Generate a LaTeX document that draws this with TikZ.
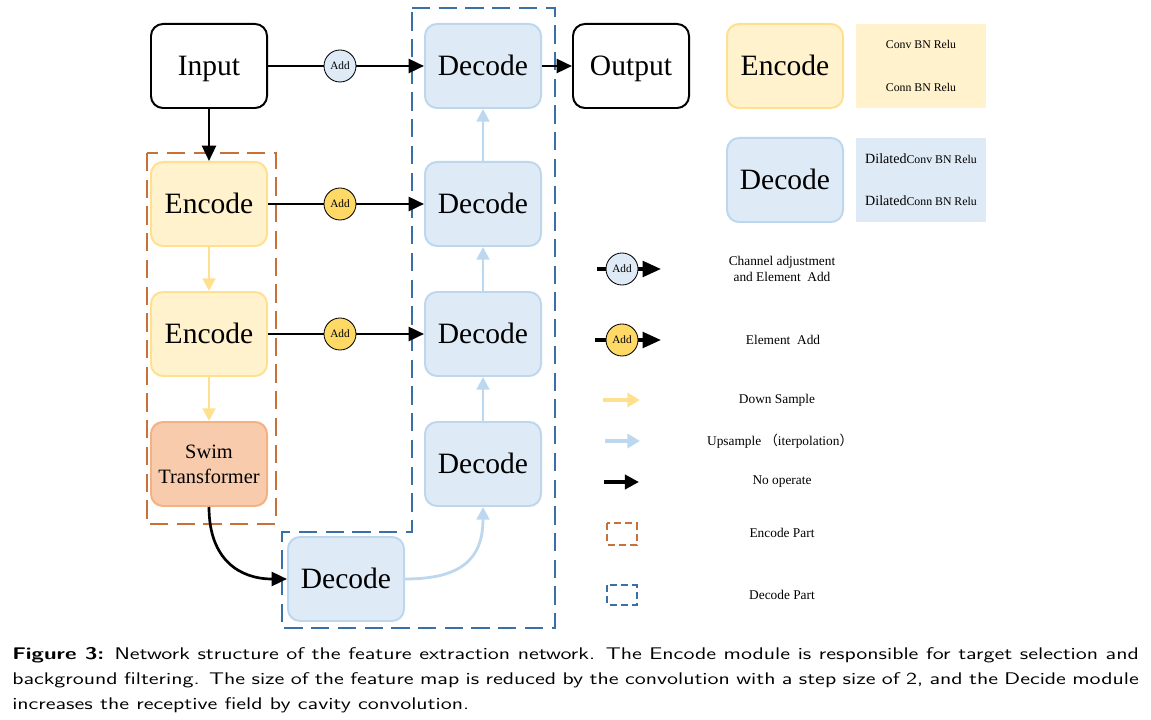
\documentclass[tikz,border=0pt]{standalone}
\usepackage{fontspec}
\setmainfont{Liberation Serif}
\newfontfamily\cjkfont{Noto Sans CJK SC}
\usepackage{graphicx}
\usepackage{tikz}
\usetikzlibrary{arrows.meta}
\usetikzlibrary{positioning}

\definecolor{encfill}{HTML}{FFF2CC}
\definecolor{encline}{HTML}{FFE08F}
\definecolor{decfill}{HTML}{DEEAF6}
\definecolor{decline}{HTML}{BDD7EE}
\definecolor{swimfill}{HTML}{F8CBAD}
\definecolor{swimline}{HTML}{F4B183}
\definecolor{addyellow}{HTML}{FFD966}
\definecolor{encpart}{HTML}{C8703A}
\definecolor{decpart}{HTML}{3A70A8}

\begin{document}
\begin{tikzpicture}[x=0.025cm,y=-0.025cm,
	box/.style={rounded corners=0.3cm,minimum width=2.9cm,minimum height=2.1cm,line width=1.4pt,align=center},
	word/.style={box,font=\fontsize{21}{25}\selectfont,text height=13.5pt,text depth=0pt},
	io node/.style={word,draw=black},
	enc node/.style={word,draw=encline,fill=encfill},
	dec node/.style={word,draw=decline,fill=decfill},
	swim node/.style={box,draw=swimline,fill=swimfill,font=\fontsize{14.5}{17.8}\selectfont},
	add node/.style={circle,draw=black,line width=0.6pt,minimum size=0.8cm,inner sep=0pt,font=\fontsize{8}{9}\selectfont},
	panel/.style={minimum width=3.25cm,minimum height=2.1cm,align=center,font=\fontsize{8.4}{10}\selectfont},
	legend text/.style={align=center,font=\fontsize{9.5}{11.4}\selectfont},
	plain/.style={line width=1.9pt,-{Triangle[length=11pt,width=10pt]}},
	down/.style={draw=encline,line width=2pt,-{Triangle[length=9pt,width=9pt]}},
	up/.style={draw=decline,line width=2pt,-{Triangle[length=9pt,width=9pt]}},
	part/.style={line width=1pt,dash pattern=on 13pt off 6pt}]

	\useasboundingbox (0,0) rectangle (1151,720);

	% main blocks
	\node[io node] (In) at (209,66) {Input};
	\node[dec node] (D1) at (483,66) {Decode};
	\node[io node] (Out) at (631,66) {Output};
	\node[enc node] (E1) at (209,204) {Encode};
	\node[dec node] (D2) at (483,204) {Decode};
	\node[enc node] (E2) at (209,334) {Encode};
	\node[dec node] (D3) at (483,334) {Decode};
	\node[swim node] (S) at (209,464) {Swim\\Transformer};
	\node[dec node] (D4) at (483,464) {Decode};
	\node[dec node] (D5) at (346,579) {Decode};

	\node[add node,fill=decfill] (A1) at (340,66) {Add};
	\node[add node,fill=addyellow] (A2) at (340,204) {Add};
	\node[add node,fill=addyellow] (A3) at (340,334) {Add};

	% parts
	\draw[part,draw=encpart] (147,153) rectangle (276,524);
	\draw[part,draw=decpart] (412,8) -- (555,8) -- (555,628) -- (282,628) -- (282,532) -- (412,532) -- cycle;

	% connectors
	\draw[line width=1.9pt] (In) -- (A1);
	\draw[plain] (A1) -- (D1);
	\draw[plain] (D1) -- (Out);
	\draw[plain] (In) -- (E1);
	\draw[line width=1.9pt] (E1) -- (A2);
	\draw[plain] (A2) -- (D2);
	\draw[line width=1.9pt] (E2) -- (A3);
	\draw[plain] (A3) -- (D3);
	\draw[down] (E1) -- (E2);
	\draw[down] (E2) -- (S);
	\draw[up] (D4) -- (D3);
	\draw[up] (D3) -- (D2);
	\draw[up] (D2) -- (D1);
	\draw[plain] (S.south) .. controls (209,560) and (240,579) .. (D5.west);
	\draw[up] (D5.east) .. controls (460,579) and (483,560) .. (D4.south);

	% legend
	\node[enc node] (LE) at (785,66) {Encode};
	\node[panel,fill=encfill] (LEp) at (921,66) {Conv BN Relu\\[20pt]Conn BN Relu};
	\node[dec node] (LD) at (785,180) {Decode};
	\node[panel,fill=decfill] (LDp) at (921,180) {{\fontsize{10}{10}\selectfont Dilated}Conv BN Relu\\[20pt]{\fontsize{10}{10}\selectfont Dilated}Conn BN Relu};

	\node[add node,fill=decfill] (LA1) at (622,269) {Add};
	\coordinate (LA1in) at (597,269);
	\coordinate (LA1out) at (661,269);
	\draw[line width=2.5pt] (LA1in) -- (LA1);
	\draw[line width=2.5pt,-{Triangle[length=13pt,width=11pt]}] (LA1) -- (LA1out);
	\node[legend text] (T1) at (782,269) {Channel adjustment\\and Element\ \ Add};

	\node[add node,fill=addyellow] (LA2) at (622,340) {Add};
	\coordinate (LA2in) at (595,340);
	\coordinate (LA2out) at (661,340);
	\draw[line width=2.5pt] (LA2in) -- (LA2);
	\draw[line width=2.5pt,-{Triangle[length=13pt,width=11pt]}] (LA2) -- (LA2out);
	\node[legend text] (T2) at (783,340) {Element\ \ Add};

	\coordinate (LDs) at (603,400);
	\coordinate (LDe) at (640,400);
	\draw[down,line width=3.5pt,-{Triangle[length=9pt,width=10pt]}] (LDs) -- (LDe);
	\node[legend text] (T3) at (777,400) {Down Sample};

	\coordinate (LUs) at (605,441);
	\coordinate (LUe) at (640,441);
	\draw[up,line width=3.5pt,-{Triangle[length=9pt,width=10pt]}] (LUs) -- (LUe);
	\node[legend text] (T4) at (780,441) {Upsample\ {\cjkfont （}iterpolation{\cjkfont ）}};

	\coordinate (LNs) at (604,482);
	\coordinate (LNe) at (639,482);
	\draw[line width=2.8pt,-{Triangle[length=10pt,width=10pt]}] (LNs) -- (LNe);
	\node[legend text] (T5) at (782,482) {No operate};

	\draw[line width=0.9pt,draw=encpart,dash pattern=on 5pt off 3pt] (607,523) rectangle (637,545);
	\node[legend text] (T6) at (782,533) {Encode Part};
	\draw[line width=0.9pt,draw=decpart,dash pattern=on 5pt off 3pt] (607,585) rectangle (637,605);
	\node[legend text] (T7) at (782,595) {Decode Part};

	% caption
	\node[anchor=north west,inner sep=0pt] (Cap) at (12,647)
		{\scalebox{1.33}[1]{\parbox{21.17cm}{\sffamily\fontsize{12}{17.8}\selectfont\textbf{Figure 3:} Network structure of the feature extraction network. The Encode module is responsible for target selection and background filtering. The size of the feature map is reduced by the convolution with a step size of 2, and the Decide module increases the receptive field by cavity convolution.}}};

\end{tikzpicture}
\end{document}
